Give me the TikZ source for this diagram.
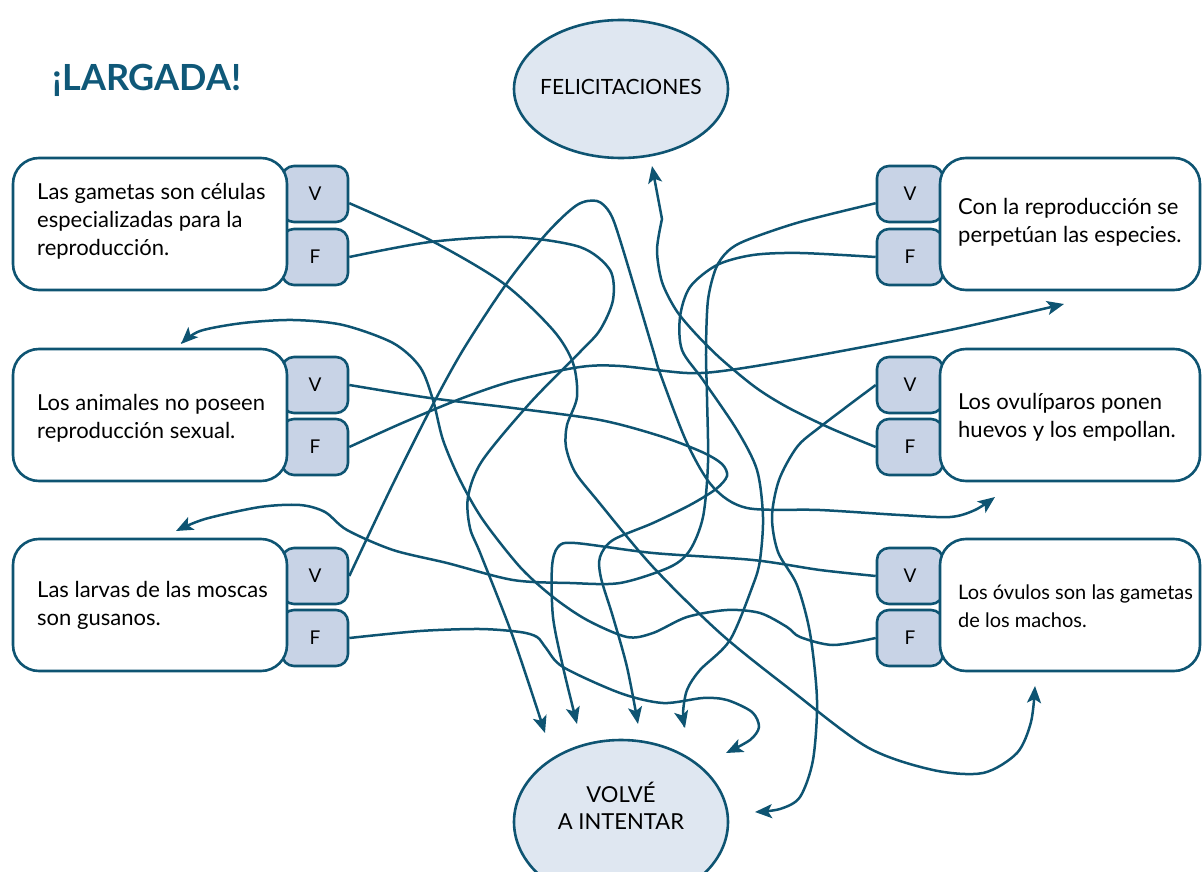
\documentclass[tikz,border=0pt]{standalone}
\usepackage{fontspec}
\setmainfont{Lato}
\usetikzlibrary{shapes.geometric,arrows.meta}
\definecolor{ink}{HTML}{0E5472}
\definecolor{tabfill}{HTML}{C8D3E6}
\definecolor{ellfill}{HTML}{DFE7F1}
\definecolor{titlec}{HTML}{0F5878}
\begin{document}
\begin{tikzpicture}[x=1pt,y=-1pt,
  stmt/.style={draw=ink, line width=2.6pt, fill=white, rounded corners=26pt, minimum height=132pt, inner sep=0pt},
  tabbox/.style={draw=ink, line width=2.6pt, fill=tabfill, rounded corners=12pt, minimum width=66pt, minimum height=56pt, inner sep=0pt, font=\fontsize{19}{22}\selectfont},
  txt/.style={anchor=west, align=left, inner sep=0pt, font=\fontsize{22}{28}\selectfont},
  goal/.style={ellipse, draw=ink, line width=2.6pt, fill=ellfill, minimum width=214pt, inner sep=0pt},
  conn/.style={draw=ink, line width=2.5pt, -{Stealth[length=17pt,width=14pt,inset=4pt]}}
]
\useasboundingbox (0,0) rectangle (1203,872);

% title
\node[text=titlec, font=\fontsize{36}{42}\selectfont\bfseries, inner sep=0pt] (title) at (147,80) {¡LARGADA!};

% goals
\node[goal, minimum height=138pt] (fel) at (621,89) {};
\node[font=\fontsize{21}{24}\selectfont, inner sep=0pt] (feltxt) at (621,87) {FELICITACIONES};
\node[goal, minimum height=164pt] (vol) at (621,822) {};
\node[font=\fontsize{22}{27}\selectfont, align=center, inner sep=0pt] (voltxt) at (621,806) {VOLVÉ\\A INTENTAR};

% left tabs
\node[tabbox] (v1) at (315,194) {V};
\node[tabbox] (f1) at (315,257) {F};
\node[tabbox] (v2) at (315,385) {V};
\node[tabbox] (f2) at (315,447) {F};
\node[tabbox] (v3) at (315,576) {V};
\node[tabbox] (f3) at (315,638) {F};
% right tabs
\node[tabbox] (rv1) at (910,194) {V};
\node[tabbox] (rf1) at (910,257) {F};
\node[tabbox] (rv2) at (910,385) {V};
\node[tabbox] (rf2) at (910,447) {F};
\node[tabbox] (rv3) at (910,576) {V};
\node[tabbox] (rf3) at (910,638) {F};

% statement boxes
\node[stmt, minimum width=274pt] (b1) at (150,224) {};
\node[stmt, minimum width=274pt] (b2) at (150,415) {};
\node[stmt, minimum width=274pt] (b3) at (150,605) {};
\node[stmt, minimum width=260pt] (rb1) at (1070,224) {};
\node[stmt, minimum width=260pt] (rb2) at (1070,415) {};
\node[stmt, minimum width=260pt] (rb3) at (1070,605) {};

\node[txt] (t1) at (37,221) {Las gametas son células\\especializadas para la\\reproducción.};
\node[txt] (t2) at (37,418) {Los animales no poseen\\reproducción sexual.};
\node[txt] (t3) at (37,605) {Las larvas de las moscas\\son gusanos.};
\node[txt] (rt1) at (958,222) {Con la reproducción se\\perpetúan las especies.};
\node[txt] (rt2) at (958,417) {Los ovulíparos ponen\\huevos y los empollan.};
\node[txt, font=\fontsize{20}{28}\selectfont] (rt3) at (958,606) {Los óvulos son las gametas\\de los machos.};

% free ends of connectors
\coordinate (e1) at (1035,686);
\coordinate (e2) at (545,733);
\coordinate (e3) at (638,724);
\coordinate (e4) at (1064,304);
\coordinate (e5) at (995,497);
\coordinate (e6) at (726,753);
\coordinate (e7) at (176,531);
\coordinate (e8) at (685,728);
\coordinate (e9) at (755,812);
\coordinate (e10) at (652,166);
\coordinate (e11) at (577,724);
\coordinate (e12) at (181,344);

% connectors
\draw[conn] plot[smooth] coordinates {(v1.-15) (430,240) (503,283) (553,330) (573,363) (577,397) (567,425) (566,447) (575,472) (597,500) (653,567) (720,633) (787,687) (867,747) (933,770) (983,773) (1017,753) (1031,722) (e1)};
\draw[conn] plot[smooth] coordinates {(f1.east) (430,242) (513,237) (580,247) (610,270) (613,300) (600,330) (580,352) (530,403) (482,461) (468,497) (470,528) (481,555) (513,637) (e2)};
\draw[conn] plot[smooth] coordinates {(v2.east) (430,398) (513,408) (600,420) (660,436) (702,452) (722,464) (727,476) (716,489) (690,505) (653,523) (613,540) (600,557) (601,578) (613,617) (627,667) (e3)};
\draw[conn] plot[smooth] coordinates {(f2.east) (400,424) (460,399) (513,381) (580,367) (620,366) (687,373) (730,370) (820,355) (950,330) (e4)};
\draw[conn] plot[smooth] coordinates {(v3.east) (390,490) (430,410) (463,350) (507,283) (547,233) (577,205) (597,201) (610,213) (621,243) (653,350) (660,373) (687,443) (713,487) (747,508) (820,510) (900,515) (950,517) (975,510) (e5)};
\draw[conn] plot[smooth] coordinates {(f3.east) (420,631) (480,629) (520,632) (537,637) (546,648) (563,667) (620,693) (663,703) (703,698) (727,700) (752,712) (759,727) (750,740) (e6)};
\draw[conn] plot[smooth] coordinates {(rv1.195) (800,222) (747,240) (728,251) (716,268) (708,300) (706,350) (707,397) (708,463) (703,517) (690,550) (670,567) (620,583) (570,583) (513,580) (447,563) (393,550) (347,530) (325,512) (300,505) (260,507) (205,519) (e7)};
\draw[conn] plot[smooth] coordinates {(rf1.west) (800,253) (753,255) (717,265) (690,287) (680,317) (682,350) (703,380) (737,430) (757,470) (763,517) (760,560) (753,585) (730,640) (700,670) (687,690) (683,713) (e8)};
\draw[conn] plot[smooth] coordinates {(rv2.west) (820,427) (797,447) (779,480) (772,517) (778,552) (797,585) (810,633) (817,700) (813,760) (800,797) (780,809) (e9)};
\draw[conn] plot[smooth] coordinates {(rf2.west) (830,428) (787,407) (755,387) (720,358) (695,333) (676,310) (662,282) (657,250) (662,219)} -- (e10);
\draw[conn] plot[smooth] coordinates {(rv3.west) (820,570) (753,560) (653,553) (575,543) (558,547) (552,567) (553,617) (563,667) (e11)};
\draw[conn] plot[smooth] coordinates {(rf3.west) (833,645) (800,637) (787,627) (760,613) (727,610) (687,617) (653,633) (627,637) (587,620) (553,597) (520,567) (483,520) (460,480) (443,440) (433,400) (420,367) (393,343) (343,325) (293,320) (243,323) (200,331) (e12)};
\end{tikzpicture}
\end{document}
